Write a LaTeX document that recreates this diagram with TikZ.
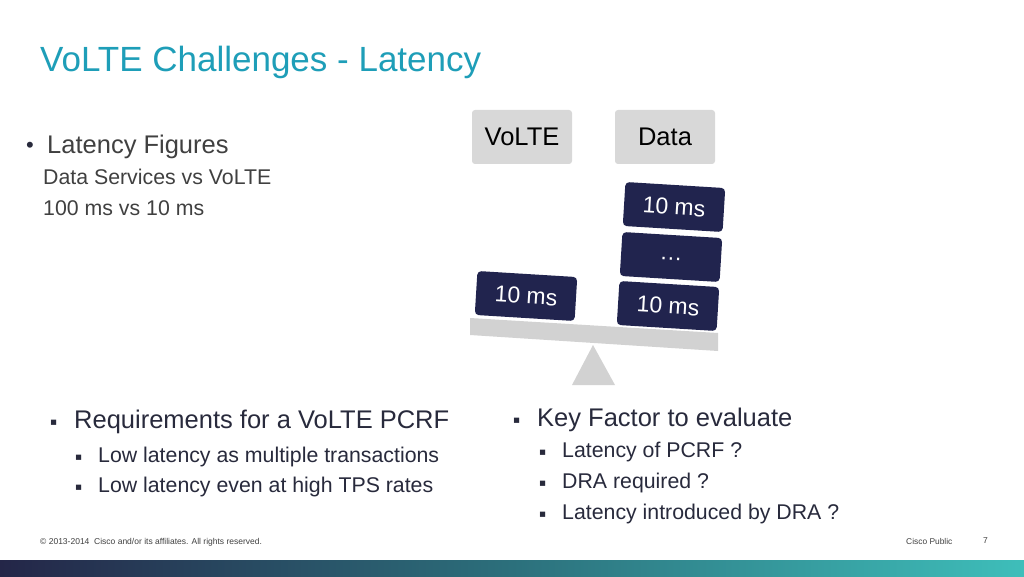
\documentclass[tikz,border=0pt]{standalone}
\usepackage{fontspec}
\setmainfont{Liberation Sans}
\newfontfamily\symfont{DejaVu Sans}
\usepackage{xcolor}
\usetikzlibrary{calc,positioning}
\definecolor{ciscoTeal}{RGB}{30,158,184}
\definecolor{ciscoNavy}{RGB}{33,36,78}
\definecolor{ciscoText}{RGB}{40,42,60}
\definecolor{ciscoGrayText}{RGB}{64,64,64}
\definecolor{ciscoBoxGray}{RGB}{216,216,216}
\definecolor{ciscoBeam}{RGB}{210,210,210}
\definecolor{ciscoBarLeft}{RGB}{36,38,72}
\definecolor{ciscoBarMid}{RGB}{44,112,124}
\definecolor{ciscoBarRight}{RGB}{62,190,186}
\tikzset{
  txt/.style={anchor=base west, inner sep=0pt},
  labelbox/.style={fill=ciscoBoxGray, rounded corners=3pt, minimum width=100pt, minimum height=54pt,
    inner sep=0pt, font=\fontsize{25.5}{25.5}\selectfont},
  msblock/.style={fill=ciscoNavy, rounded corners=4pt, minimum width=100pt, minimum height=44pt,
    inner sep=0pt, text=white, rotate=-3.5, font=\fontsize{23}{23}\selectfont},
  sqbullet/.style={anchor=base west, inner sep=0pt, text=ciscoText, font=\symfont\fontsize{10.5}{10.5}\selectfont},
  bigtxt/.style={txt, text=ciscoText, font=\fontsize{25.5}{25.5}\selectfont},
  subtxt/.style={txt, text=ciscoText, font=\fontsize{21.3}{21.3}\selectfont}
}
\begin{document}
\begin{tikzpicture}[x=1pt,y=-1pt]
\useasboundingbox (0,0) rectangle (1024,577);
\fill[white] (0,0) rectangle (1024,577);
\node[txt, text=ciscoTeal, font=\fontsize{35}{35}\selectfont] (title) at (40,72) {VoLTE Challenges - Latency};
% latency figures
\node[txt, text=ciscoText, font=\fontsize{22}{22}\selectfont] (dot) at (26,153) {•};
\node[txt, text=ciscoGrayText, font=\fontsize{25.5}{25.5}\selectfont] (figs) at (47,154) {Latency Figures};
\node[txt, text=ciscoGrayText, font=\fontsize{21.3}{21.3}\selectfont] (cmp1) at (43,185) {Data Services vs VoLTE};
\node[txt, text=ciscoGrayText, font=\fontsize{21.3}{21.3}\selectfont] (cmp2) at (43,215) {100 ms vs 10 ms};
% scale
\node[labelbox] (volte) at (522,137) {VoLTE};
\node[labelbox] (data) at (665,137) {Data};
\fill[ciscoBeam] (470,318) -- (718,333) -- (718,351) -- (470,335) -- cycle;
\fill[ciscoBeam] (593,345) -- (615,385) -- (572,385) -- cycle;
\node[msblock] (left10) at (526,296) {10 ms};
\node[msblock] (right10) at (668,306) {10 ms};
\node[msblock] (dots) at (671,257) {\raisebox{-6pt}{\dots}};
\node[msblock] (top10) at (674,207) {10 ms};
% requirements
\node[sqbullet] (b1) at (50,425) {▪};
\node[bigtxt] (req) at (74,428) {Requirements for a VoLTE PCRF};
\node[sqbullet] (b2) at (75,460) {▪};
\node[subtxt] (req1) at (98,462) {Low latency as multiple transactions};
\node[sqbullet] (b3) at (75,490) {▪};
\node[subtxt] (req2) at (98,492) {Low latency even at high TPS rates};
% key factor
\node[sqbullet] (b4) at (513,423) {▪};
\node[bigtxt] (key) at (537,426) {Key Factor to evaluate};
\node[sqbullet] (b5) at (539,455) {▪};
\node[subtxt] (key1) at (562,457) {Latency of PCRF ?};
\node[sqbullet] (b6) at (539,486) {▪};
\node[subtxt] (key2) at (562,488) {DRA required ?};
\node[sqbullet] (b7) at (539,517) {▪};
\node[subtxt] (key3) at (562,519) {Latency introduced by DRA ?};
% footer
\node[txt, text=ciscoGrayText, font=\fontsize{8.5}{8.5}\selectfont] (copy) at (40,544) {© 2013-2014\ \ Cisco and/or its affiliates. All rights reserved.};
\node[txt, text=ciscoGrayText, font=\fontsize{8.4}{8.4}\selectfont] (pub) at (906,544) {Cisco Public};
\node[txt, text=ciscoGrayText, font=\fontsize{8.5}{8.5}\selectfont] (page) at (983,543) {7};
\shade[left color=ciscoBarLeft, right color=ciscoBarRight, middle color=ciscoBarMid] (0,560) rectangle (1024,577);
\end{tikzpicture}
\end{document}
